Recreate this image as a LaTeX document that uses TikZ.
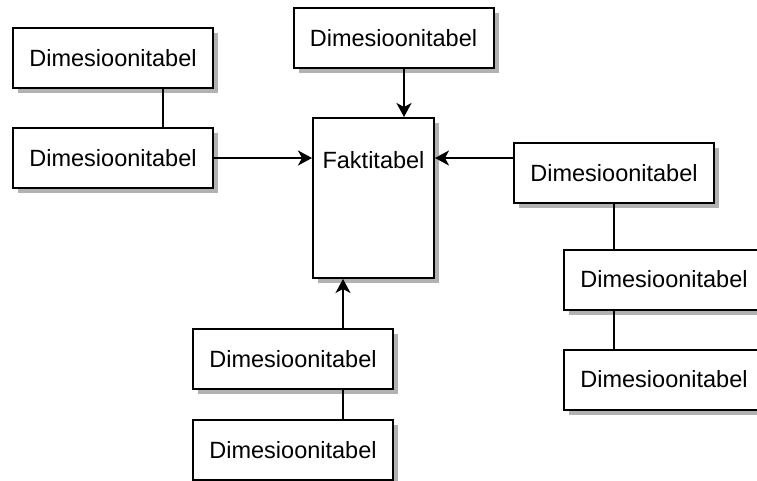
\documentclass[tikz,border=0pt]{standalone}
\usepackage{fontspec}
\setmainfont{Liberation Sans}
\usetikzlibrary{arrows.meta,shadows}
\begin{document}
\begin{tikzpicture}[x=1pt,y=-1pt,
  tbl/.style={draw=black, line width=2pt, fill=white, rectangle,
    inner sep=0pt, minimum width=200pt, minimum height=60pt,
    font=\fontsize{23.5}{26}\selectfont,
    drop shadow={shadow xshift=5pt, shadow yshift=-5pt, fill=black!30, opacity=1}},
  link/.style={draw=black, line width=2pt},
  arr/.style={link, -{Stealth[length=14pt, width=15pt, inset=4pt]}}]
  \useasboundingbox (0,0) rectangle (757,481);

  % fact table
  \node[tbl, minimum width=121pt, minimum height=160pt] (fact) at (373.5,198) {};
  \node[font=\fontsize{23.5}{26}\selectfont] (factlabel) at (373.5,160) {Faktitabel};

  % dimension tables
  \node[tbl] (d1)   at (113,58.5)  {Dimesioonitabel};
  \node[tbl] (d2)   at (113,158)   {Dimesioonitabel};
  \node[tbl] (dtop) at (393.5,38.5) {Dimesioonitabel};
  \node[tbl] (r1)   at (614,173)   {Dimesioonitabel};
  \node[tbl] (r2)   at (664,279.5) {Dimesioonitabel};
  \node[tbl] (r3)   at (664,379.5) {Dimesioonitabel};
  \node[tbl] (b1)   at (293,359)   {Dimesioonitabel};
  \node[tbl] (b2)   at (293,450)   {Dimesioonitabel};

  % chains of dimension tables
  \draw[link] ([xshift=50pt]d1.south) -- ([xshift=50pt]d2.north);
  \draw[link] (r1.south) -- (r1.south |- r2.north);
  \draw[link] (r1.south |- r2.south) -- (r1.south |- r3.north);
  \draw[link] ([xshift=50pt]b1.south) -- ([xshift=50pt]b2.north);

  % links into the fact table
  \draw[arr] (d2.east) -- (d2.east -| fact.west);
  \draw[arr] ([yshift=15pt]r1.west) -- ([yshift=15pt]r1.west -| fact.east);
  \draw[arr] ([xshift=10.5pt]dtop.south) -- ([xshift=10.5pt]dtop.south |- fact.north);
  \draw[arr] ([xshift=50pt]b1.north) -- ([xshift=50pt]b1.north |- fact.south);
\end{tikzpicture}
\end{document}
